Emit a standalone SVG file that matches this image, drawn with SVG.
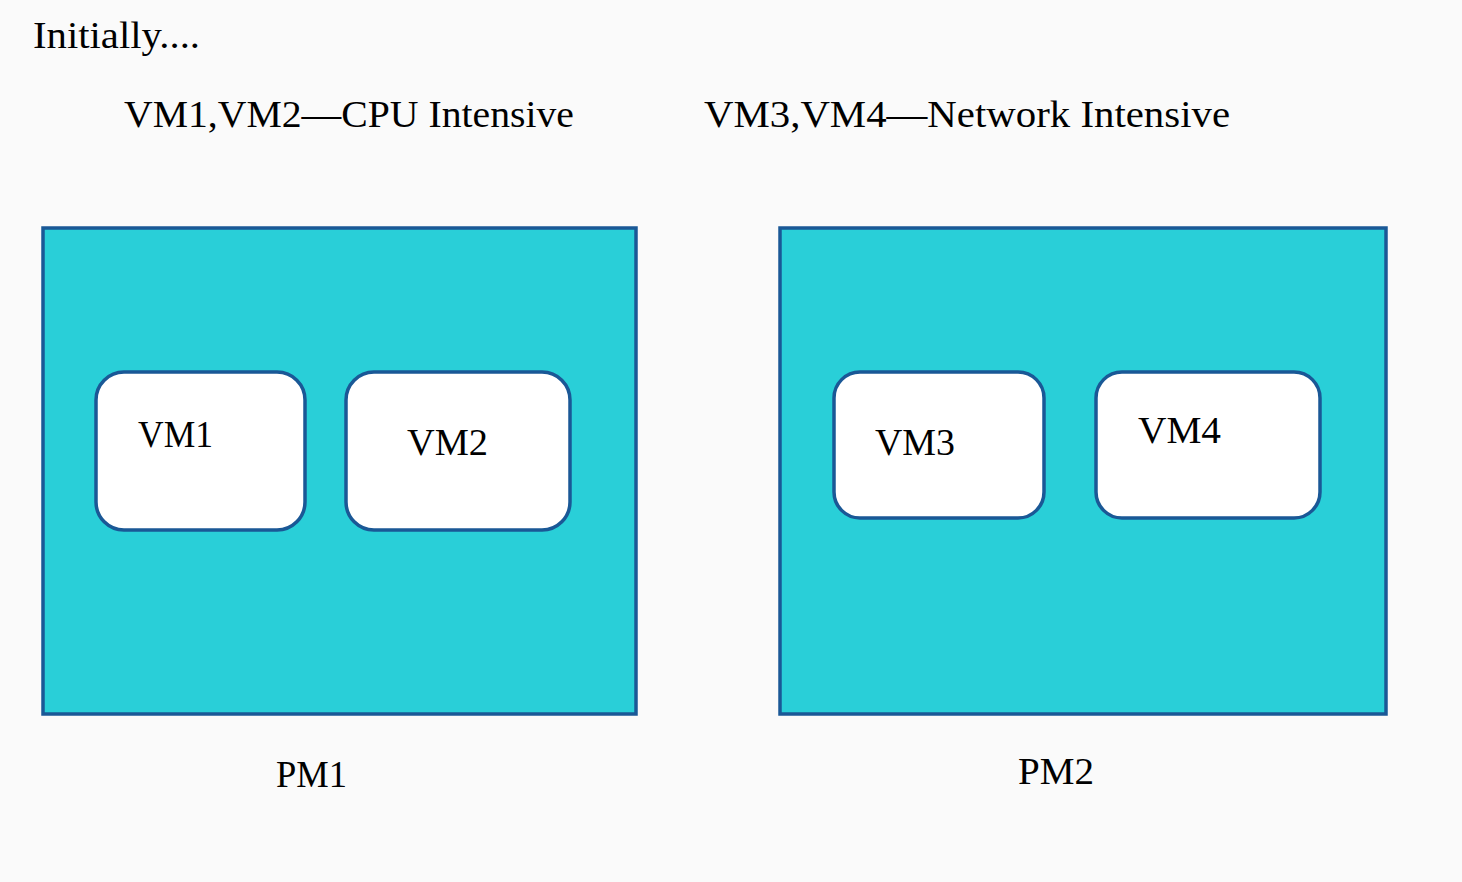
<svg xmlns="http://www.w3.org/2000/svg" width="1462" height="882" viewBox="0 0 1462 882">
<style>
.pm{fill:#29cfd8;stroke:#1a5896;stroke-width:3.5}
.vm{fill:#ffffff;stroke:#1a5896;stroke-width:3.5}
.t{font-family:"Liberation Serif","DejaVu Serif",serif;font-size:38px;fill:#000}
</style>
<rect x="0" y="0" width="1462" height="882" fill="#fafafa"/>
<text class="t" x="33" y="48" textLength="167" lengthAdjust="spacingAndGlyphs">Initially....</text>
<text class="t" x="124" y="127" textLength="450" lengthAdjust="spacingAndGlyphs">VM1,VM2—CPU Intensive</text>
<text class="t" x="704" y="127" textLength="526" lengthAdjust="spacingAndGlyphs">VM3,VM4—Network Intensive</text>
<g id="pm1">
<rect class="pm" x="43" y="228" width="593" height="486"/>
<text class="t" x="276" y="787" textLength="71" lengthAdjust="spacingAndGlyphs">PM1</text>
</g>
<g id="pm2">
<rect class="pm" x="780" y="228" width="606" height="486"/>
<text class="t" x="1018" y="784" textLength="76" lengthAdjust="spacingAndGlyphs">PM2</text>
</g>
<g id="vm1">
<rect class="vm" x="96" y="372" width="209" height="158" rx="28"/>
<text class="t" x="138" y="447" textLength="75" lengthAdjust="spacingAndGlyphs">VM1</text>
</g>
<g id="vm2">
<rect class="vm" x="346" y="372" width="224" height="158" rx="28"/>
<text class="t" x="407" y="455" textLength="81" lengthAdjust="spacingAndGlyphs">VM2</text>
</g>
<g id="vm3">
<rect class="vm" x="834" y="372" width="210" height="146" rx="26"/>
<text class="t" x="875" y="455" textLength="80" lengthAdjust="spacingAndGlyphs">VM3</text>
</g>
<g id="vm4">
<rect class="vm" x="1096" y="372" width="224" height="146" rx="26"/>
<text class="t" x="1138" y="443" textLength="83" lengthAdjust="spacingAndGlyphs">VM4</text>
</g>
<g id="connectors"/>
</svg>
